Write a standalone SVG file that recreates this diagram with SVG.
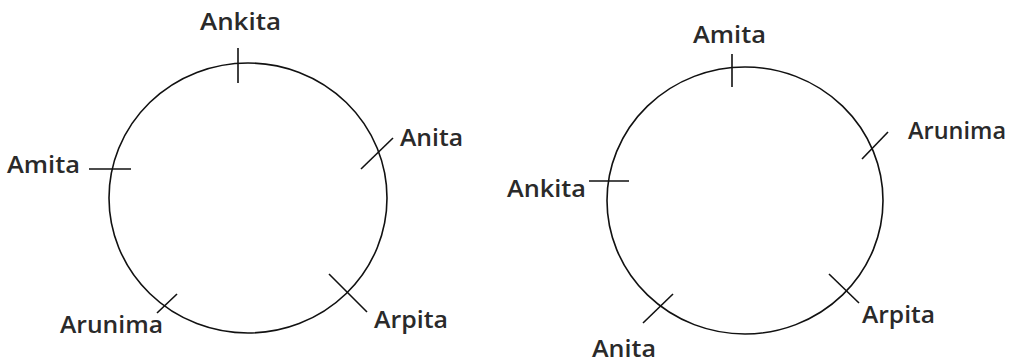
<svg xmlns="http://www.w3.org/2000/svg" width="1009" height="362" viewBox="0 0 1009 362">
<style>
.c{fill:none;stroke:#111;stroke-width:1.6}
.t{fill:none;stroke:#111;stroke-width:1.6}
.l{font-family:"Open Sans","Noto Sans","Liberation Sans",sans-serif;font-size:23px;font-weight:600;fill:#2a2a2a}
</style>
<rect width="1009" height="362" fill="#fff"/>
<g id="left-circle"><ellipse class="c" cx="248" cy="198" rx="139" ry="135"/></g>
<g id="right-circle"><ellipse class="c" cx="745" cy="200.5" rx="138" ry="133.5"/></g>
<g id="connectors">
<line class="t" x1="238" y1="48" x2="238" y2="83"/>
<line class="t" x1="89" y1="169" x2="131" y2="169"/>
<line class="t" x1="361" y1="169" x2="393" y2="138"/>
<line class="t" x1="329" y1="274" x2="367" y2="312"/>
<line class="t" x1="157" y1="313" x2="177" y2="294"/>
<line class="t" x1="732" y1="54" x2="732" y2="87"/>
<line class="t" x1="589" y1="181" x2="629" y2="181"/>
<line class="t" x1="862" y1="159" x2="888" y2="132"/>
<line class="t" x1="829" y1="274" x2="859" y2="303"/>
<line class="t" x1="643" y1="323" x2="673" y2="294"/>
</g>
<g id="n-ankita-l"><text class="l" x="200" y="30" textLength="81" lengthAdjust="spacingAndGlyphs">Ankita</text></g>
<g id="n-amita-l"><text class="l" x="7" y="173" textLength="73" lengthAdjust="spacingAndGlyphs">Amita</text></g>
<g id="n-anita-l"><text class="l" x="400" y="146" textLength="63" lengthAdjust="spacingAndGlyphs">Anita</text></g>
<g id="n-arpita-l"><text class="l" x="374" y="328" textLength="74" lengthAdjust="spacingAndGlyphs">Arpita</text></g>
<g id="n-arunima-l"><text class="l" x="60" y="333" textLength="103" lengthAdjust="spacingAndGlyphs">Arunima</text></g>
<g id="n-amita-r"><text class="l" x="693" y="43" textLength="73" lengthAdjust="spacingAndGlyphs">Amita</text></g>
<g id="n-ankita-r"><text class="l" x="507" y="197" textLength="79" lengthAdjust="spacingAndGlyphs">Ankita</text></g>
<g id="n-arunima-r"><text class="l" x="908" y="139" textLength="98" lengthAdjust="spacingAndGlyphs">Arunima</text></g>
<g id="n-arpita-r"><text class="l" x="862" y="323" textLength="73" lengthAdjust="spacingAndGlyphs">Arpita</text></g>
<g id="n-anita-r"><text class="l" x="592" y="357" textLength="64" lengthAdjust="spacingAndGlyphs">Anita</text></g>
</svg>
